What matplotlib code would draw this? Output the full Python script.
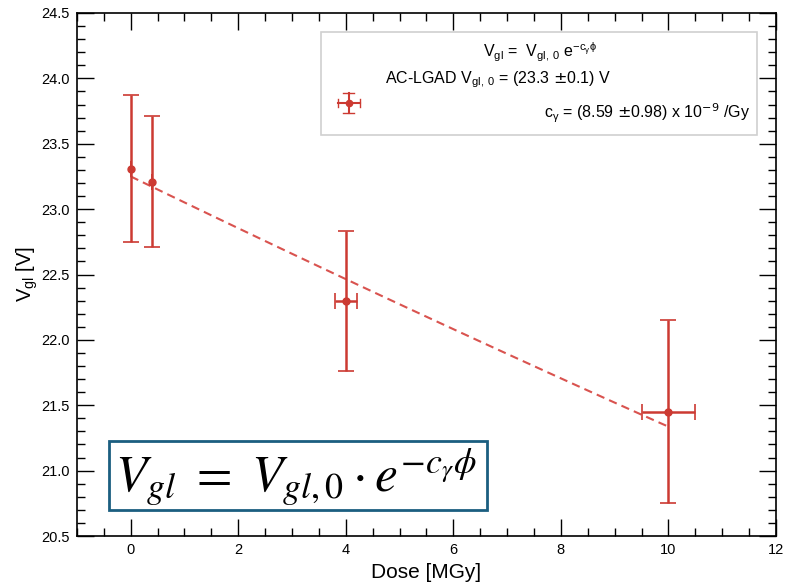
import numpy as np
import matplotlib
matplotlib.use('Agg')
import matplotlib.pyplot as plt
from matplotlib.ticker import MultipleLocator, FormatStrFormatter
from matplotlib.patches import Rectangle

plt.rcParams['font.family'] = ['Liberation Sans', 'DejaVu Sans']

# data
dose = [0.0, 0.4, 4.0, 10.0]
dose_err = [0.0, 0.0, 0.2, 0.5]
vgl = [23.31, 23.21, 22.30, 21.45]
vgl_err = [0.56, 0.50, 0.535, 0.70]

# fit parameters (dose in MGy)
v0 = 23.25
c_gamma = 8.59e-3
fit_range = [0.0, 10.0]

red = '#cc3a32'

fig = plt.figure(figsize=(7.85, 5.82), dpi=100)
ax = fig.add_axes([0.098, 0.079, 0.8905, 0.8987])

xf = np.linspace(fit_range[0], fit_range[1], 100)
ax.plot(xf, v0 * np.exp(-c_gamma * xf), '--', color='#d9534f', lw=1.5,
        dashes=(4, 2.5))

ax.errorbar(dose, vgl, yerr=vgl_err, xerr=dose_err, fmt='o', color=red,
            ms=5, elinewidth=1.8, capsize=6, capthick=1.2)

ax.set_xlim(-1, 12)
ax.set_ylim(20.5, 24.5)
ax.xaxis.set_major_locator(MultipleLocator(2))
ax.xaxis.set_minor_locator(MultipleLocator(0.5))
ax.yaxis.set_major_locator(MultipleLocator(0.5))
ax.yaxis.set_minor_locator(MultipleLocator(0.1))
ax.tick_params(which='both', direction='in', top=True, right=True,
               labelsize=10.5)
ax.tick_params(which='major', length=12, width=1, pad=5)
ax.tick_params(which='minor', length=6, width=1)
ax.yaxis.set_major_formatter(FormatStrFormatter('%.1f'))
for s in ax.spines.values():
    s.set_linewidth(1.2)

ax.set_xlabel('Dose [MGy]', fontsize=15, labelpad=4)
ax.set_ylabel(r'V$_{\mathregular{gl}}$ [V]', fontsize=14.5, labelpad=1)

# legend box (drawn by hand, ROOT style)
ax.add_patch(Rectangle((0.349, 0.767), 0.624, 0.196, transform=ax.transAxes,
                       fill=False, edgecolor='#d0d0d0', lw=1.2))
lx, ly = 0.389, 0.828
ax.plot([lx - 0.016, lx + 0.016], [ly, ly], color=red, lw=1.5,
        transform=ax.transAxes)
ax.plot([lx, lx], [ly - 0.019, ly + 0.019], color=red, lw=1.5,
        transform=ax.transAxes)
for dx in (-0.016, 0.016):
    ax.plot([lx + dx, lx + dx], [ly - 0.008, ly + 0.008], color=red, lw=1,
            transform=ax.transAxes)
for dy in (-0.019, 0.019):
    ax.plot([lx - 0.008, lx + 0.008], [ly + dy, ly + dy], color=red, lw=1,
            transform=ax.transAxes)
ax.plot([lx], [ly], 'o', color=red, ms=4.5, transform=ax.transAxes)

ax.text(0.662, 0.925,
        r'V$_{\mathregular{gl}}$ =  V$_{\mathregular{gl,\,0}}$ e$^{\mathregular{-c_{\gamma}\phi}}$',
        transform=ax.transAxes, ha='center', va='center', fontsize=11.5)
ax.text(0.44, 0.872, r'AC-LGAD V$_{\mathregular{gl,\,0}}$ = (23.3 $\pm$0.1) V',
        transform=ax.transAxes, ha='left', va='center', fontsize=11.5)
ax.text(0.963, 0.809,
        r'c$_{\mathregular{\gamma}}$ = (8.59 $\pm$0.98) x 10$^{-9}$ /Gy',
        transform=ax.transAxes, ha='right', va='center', fontsize=11.5)

# formula box
ax.add_patch(Rectangle((0.046, 0.0497), 0.54, 0.132, transform=ax.transAxes,
                       fill=False, edgecolor='#1b5e80', lw=2))
ax.text(0.313, 0.112,
        r'$V_{gl}\ =\ V_{gl,0}\cdot e^{-c_{\gamma}\phi}$',
        transform=ax.transAxes, ha='center', va='center', fontsize=37,
        math_fontfamily='stix')

plt.savefig('out.png', dpi=100)
